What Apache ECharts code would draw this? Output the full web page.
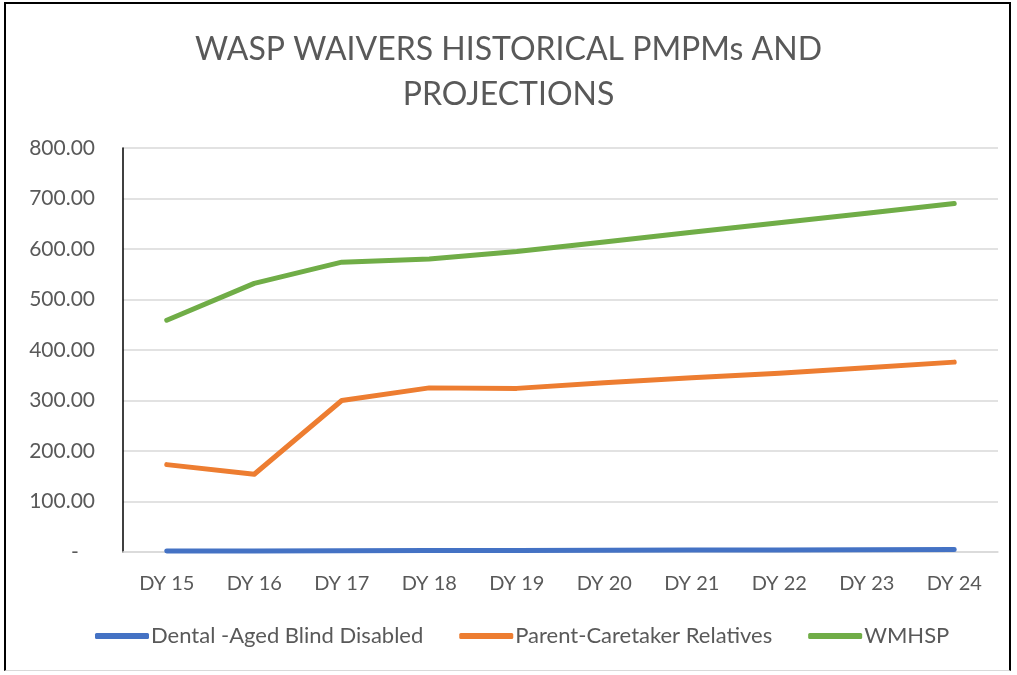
<!DOCTYPE html>
<html>
<head>
<meta charset="utf-8">
<script src="https://cdn.jsdelivr.net/npm/echarts@6/dist/echarts.min.js"></script>
<style>
	html,body{margin:0;padding:0;background:#fff;}
	#frame{position:absolute;left:4px;top:2px;width:1007px;height:669px;border:2px solid #000;border-bottom:1px solid #d9d9d9;box-sizing:border-box;}
	#chart{position:absolute;left:0;top:0;width:1017px;height:675px;}
</style>
</head>
<body>
<div id="frame"></div>
<div id="chart"></div>
<script>
var categories = ['DY 15','DY 16','DY 17','DY 18','DY 19','DY 20','DY 21','DY 22','DY 23','DY 24'];
var dentalAbd = [2.0, 2.2, 2.6, 2.9, 3.2, 3.5, 3.8, 4.1, 4.4, 4.8];
var parentCaretaker = [173, 154, 300, 325, 324, 335, 345, 354, 365, 376];
var wmhsp = [459, 532, 574, 580, 595, 614, 633, 652, 671, 690];
var seriesNames = ['Dental -Aged Blind Disabled','Parent-Caretaker Relatives','WMHSP'];
var colors = ['#4472C4','#ED7D31','#70AD47'];

var myChart = echarts.init(document.getElementById('chart'));
var font = 'Lato, "Open Sans", sans-serif';

function makeLine(name, data, color) {
	return {
		name : name,
		type : 'line',
		data : data,
		symbol : 'none',
		color : color,
		lineStyle : {
			color : color,
			width : 5,
			cap : 'round',
			join : 'round'
		}
	};
}

myChart.setOption({
	animation : false,
	title : {
		text : 'WASP WAIVERS HISTORICAL PMPMs AND\nPROJECTIONS',
		left : 'center',
		top : 22,
		textStyle : {
			fontFamily : font,
			fontWeight : 'normal',
			fontSize : 32,
			lineHeight : 45,
			color : '#595959'
		}
	},
	legend : {
		bottom : 23,
		left : 90,
		itemWidth : 54,
		itemHeight : 6,
		itemGap : 36,
		icon : 'roundRect',
		textStyle : {
			fontFamily : font,
			fontSize : 22,
			color : '#595959',
			padding : [0,0,0,-3]
		},
		data : seriesNames
	},
	grid : {
		left : 123,
		right : 19,
		top : 148,
		bottom : 123,
		containLabel : false
	},
	xAxis : {
		type : 'category',
		data : categories,
		boundaryGap : true,
		axisLine : {
			show : true,
			lineStyle : { color : '#d9d9d9', width : 1.5 }
		},
		axisTick : { show : false },
		axisLabel : {
			margin : 22,
			fontFamily : font,
			fontSize : 20,
			color : '#595959'
		}
	},
	yAxis : {
		type : 'value',
		min : 0,
		max : 800,
		interval : 100,
		axisLine : {
			show : true,
			lineStyle : { color : '#000', width : 1.5 }
		},
		axisTick : { show : false },
		axisLabel : {
			margin : 28,
			fontFamily : font,
			fontSize : 21,
			color : '#595959',
			formatter : function(v) {
				return v === 0 ? '-   ' : v.toFixed(2);
			}
		},
		splitLine : {
			show : true,
			lineStyle : { color : '#d9d9d9', width : 1.5 }
		}
	},
	series : [
		makeLine(seriesNames[0], dentalAbd, colors[0]),
		makeLine(seriesNames[1], parentCaretaker, colors[1]),
		makeLine(seriesNames[2], wmhsp, colors[2])
	]
});
</script>
</body>
</html>
